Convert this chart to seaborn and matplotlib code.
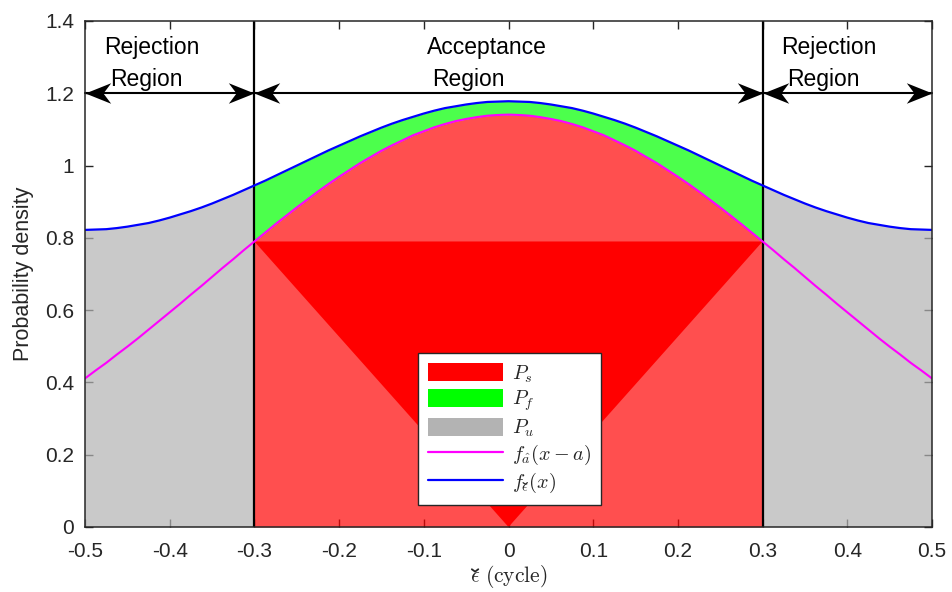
import numpy as np
import pandas as pd
import seaborn as sns
import matplotlib
matplotlib.use("Agg")
import matplotlib.pyplot as plt
from matplotlib.path import Path
from matplotlib.patches import Patch
from matplotlib.lines import Line2D
from matplotlib.transforms import IdentityTransform
from matplotlib.font_manager import FontProperties
from matplotlib.mathtext import MathTextParser

# ---------------- data ----------------
x_vals = np.round(np.arange(-0.5, 0.5001, 0.0125), 4)
f_eps_half = [0.822, 0.823, 0.824, 0.827, 0.831, 0.836, 0.841, 0.848, 0.856, 0.865,
              0.874, 0.884, 0.895, 0.907, 0.919, 0.932, 0.945, 0.958, 0.972, 0.986,
              1.000, 1.014, 1.028, 1.042, 1.055, 1.068, 1.081, 1.093, 1.105, 1.116,
              1.126, 1.135, 1.144, 1.152, 1.159, 1.164, 1.169, 1.173, 1.176, 1.177, 1.178]
f_a_half = [0.411, 0.433, 0.454, 0.477, 0.499, 0.522, 0.546, 0.570, 0.594, 0.618,
            0.643, 0.667, 0.692, 0.717, 0.741, 0.766, 0.790, 0.814, 0.838, 0.861,
            0.884, 0.906, 0.928, 0.949, 0.969, 0.988, 1.007, 1.024, 1.041, 1.056,
            1.070, 1.084, 1.095, 1.106, 1.115, 1.123, 1.129, 1.134, 1.138, 1.140, 1.141]
f_eps = f_eps_half + f_eps_half[-2::-1]     # f_eps(x), symmetric about 0
f_a = f_a_half + f_a_half[-2::-1]           # f_a(x - a), symmetric about 0
threshold = 0.3
region_bounds = [-0.5, -0.3, 0.3, 0.5]
arrow_level = 1.2
region_titles = [("Rejection", "Region"), ("Acceptance", "Region"), ("Rejection", "Region")]
x_ticks = [-0.5, -0.4, -0.3, -0.2, -0.1, 0, 0.1, 0.2, 0.3, 0.4, 0.5]
x_ticklabels = ["-0.5", "-0.4", "-0.3", "-0.2", "-0.1", "0", "0.1", "0.2", "0.3", "0.4", "0.5"]
y_ticks = [0, 0.2, 0.4, 0.6, 0.8, 1.0, 1.2, 1.4]
y_ticklabels = ["0", "0.2", "0.4", "0.6", "0.8", "1", "1.2", "1.4"]
# the epsilon below gets a caron (check accent) drawn on top of it
legend_labels = [r"$P_s$", r"$P_f$", r"$P_u$", r"$f_{\hat{a}}(x-a)$", r"$f_{\epsilon}(x)$"]
x_label = r"$\epsilon\ \mathrm{(cycle)}$"
y_label = "Probability density"

df = pd.DataFrame({"x": x_vals, "f_eps": f_eps, "f_a": f_a})

# ---------------- style ----------------
sns.set_theme(style="ticks")
plt.rcParams["font.family"] = ["Liberation Sans", "DejaVu Sans"]
plt.rcParams["mathtext.fontset"] = "cm"
plt.rcParams["axes.unicode_minus"] = False
axis_col = (0.15, 0.15, 0.15)
DPI = 100

fig = plt.figure(figsize=(9.52, 5.92), dpi=DPI)
ax = fig.add_axes([85 / 952, 1 - 527 / 592, (932 - 85) / 952, (527 - 21) / 592])

inside = np.abs(df["x"].values) <= threshold + 1e-9
outside = np.abs(df["x"].values) >= threshold - 1e-9

RED = (1, 0, 0)
GREEN = (0, 1, 0)
GRAY = (0.7, 0.7, 0.7)

ax.fill_between(df["x"], 0, df["f_a"], where=inside, color=RED, alpha=0.69, lw=0, zorder=1)
# darker triangular rendering region of the P_s fill (MATLAB overlap artefact)
i_l = int(np.argmin(np.abs(df["x"].values + threshold)))
i_r = int(np.argmin(np.abs(df["x"].values - threshold)))
i_c = int(np.argmin(np.abs(df["x"].values)))
ax.fill([df["x"][i_l], df["x"][i_c], df["x"][i_r]],
        [df["f_a"][i_l], 0, df["f_a"][i_r]], color=RED, lw=0, zorder=1.1)
ax.fill_between(df["x"], df["f_a"], df["f_eps"], where=inside, color=GREEN, alpha=0.7, lw=0, zorder=1)
ax.fill_between(df["x"], 0, df["f_eps"], where=outside, color=GRAY, alpha=0.7, lw=0, zorder=1)

for b in region_bounds[1:-1]:
    ax.axvline(b, color="black", lw=1.6, zorder=3)

sns.lineplot(data=df, x="x", y="f_a", color=(1, 0, 1), lw=1.5, ax=ax, zorder=4)
sns.lineplot(data=df, x="x", y="f_eps", color=(0, 0, 1), lw=1.6, ax=ax, zorder=4)

# arrows
head_r = Path([(0, 0), (-1, 0.4), (-0.7, 0), (-1, -0.4), (0, 0)],
              [Path.MOVETO, Path.LINETO, Path.LINETO, Path.LINETO, Path.CLOSEPOLY])
head_l = Path([(0, 0), (1, 0.4), (0.7, 0), (1, -0.4), (0, 0)],
              [Path.MOVETO, Path.LINETO, Path.LINETO, Path.LINETO, Path.CLOSEPOLY])
for a, b in zip(region_bounds[:-1], region_bounds[1:]):
    ax.plot([a, b], [arrow_level, arrow_level], color="black", lw=1.5, clip_on=False, zorder=5)
    ax.plot([a], [arrow_level], marker=head_l, ms=37, color="black", mew=0, clip_on=False, zorder=5)
    ax.plot([b], [arrow_level], marker=head_r, ms=37, color="black", mew=0, clip_on=False, zorder=5)

# region titles
title_pos = [((-0.4215, 1.3075), (-0.428, 1.219)),
             ((-0.026, 1.3075), (-0.0478, 1.219)),
             ((0.3784, 1.3075), (0.3719, 1.219))]
for (l1, l2), ((x1, y1), (x2, y2)) in zip(region_titles, title_pos):
    ax.text(x1, y1, l1, ha="center", va="baseline", fontsize=16.5, color="black", zorder=6)
    ax.text(x2, y2, l2, ha="center", va="baseline", fontsize=16.5, color="black", zorder=6)

ax.set_xlim(-0.5, 0.5)
ax.set_ylim(0, 1.4)
ax.set_xticks(x_ticks)
ax.set_xticklabels(x_ticklabels)
ax.set_yticks(y_ticks)
ax.set_yticklabels(y_ticklabels)
ax.tick_params(direction="in", length=6, width=1, colors=axis_col, labelsize=15,
               top=True, right=True)
ax.tick_params(axis="x", pad=11)
ax.tick_params(axis="y", pad=8)
for s in ax.spines.values():
    s.set_color(axis_col)
    s.set_linewidth(1.1)
    s.set_zorder(7)
ax.set_ylabel(y_label, fontsize=15.5, color=axis_col)
ax.yaxis.set_label_coords((34 - 85) / 847, 0.5)
ax.set_xlabel(x_label, fontsize=15.5, color=axis_col)
ax.xaxis.set_label_coords(0.5, (527 - 563) / 506)

handles = [Patch(facecolor=RED, edgecolor="none"),
           Patch(facecolor=GREEN, edgecolor="none"),
           Patch(facecolor=GRAY, edgecolor="none"),
           Line2D([], [], color=(1, 0, 1), lw=1.6),
           Line2D([], [], color=(0, 0, 1), lw=1.6)]
leg = ax.legend(handles, legend_labels, loc="lower center", bbox_to_anchor=(0.501, 0.043),
                fontsize=14.5, frameon=True, fancybox=False, framealpha=1,
                handlelength=3.7, handleheight=1.0, labelspacing=0.2,
                handletextpad=0.45, borderpad=0.5, borderaxespad=0)
leg.get_frame().set_edgecolor(axis_col)
leg.get_frame().set_linewidth(1.0)
leg.set_zorder(10)


# ---- draw a caron (check accent) over the epsilon of a mathtext label ----
def add_caron(text_artist, glyph_index, lw, zorder):
    fig.canvas.draw()
    s = text_artist.get_text()
    fs = text_artist.get_fontsize()
    parser = MathTextParser("path")
    vp = parser.parse(s, dpi=72, prop=FontProperties(size=fs))
    glyphs = sorted(vp.glyphs, key=lambda g: g[3])
    g = glyphs[glyph_index]
    gfs, gx, gy = g[1], g[3], g[4]
    ep = parser.parse(r"$\epsilon$", dpi=72, prop=FontProperties(size=gfs))
    ew, eh = ep.width, ep.height - ep.depth
    bb = text_artist.get_window_extent()
    k = DPI / 72.0
    xc = bb.x0 + (gx + 0.55 * ew) * k
    yb = bb.y0 + (vp.depth + gy + eh + 0.12 * gfs) * k
    half_w = 0.15 * gfs * k
    h = 0.11 * gfs * k
    fig.add_artist(Line2D([xc - half_w, xc, xc + half_w], [yb + h, yb, yb + h],
                          transform=IdentityTransform(), color=text_artist.get_color(),
                          lw=lw, solid_joinstyle="miter", zorder=zorder))


add_caron(ax.xaxis.label, 0, 1.3, 8)
add_caron(leg.get_texts()[4], 1, 0.9, 12)

fig.savefig("out.png", dpi=DPI)
